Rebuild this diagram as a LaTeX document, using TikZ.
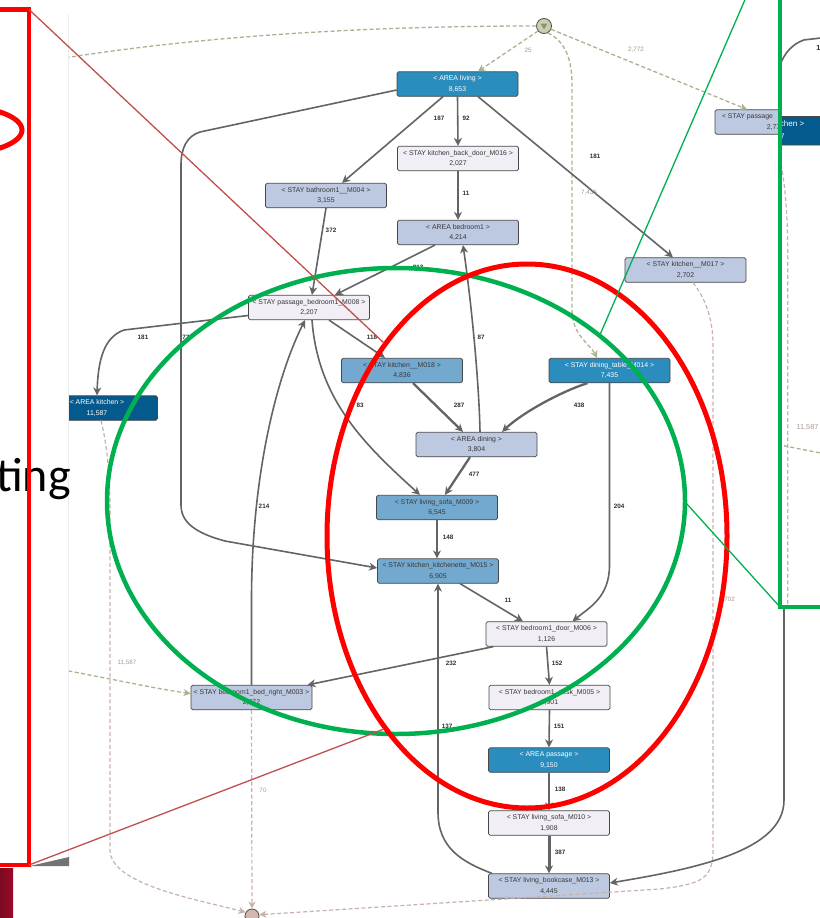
\documentclass[tikz,border=0pt]{standalone}
\usepackage{fontspec}
\setmainfont{Liberation Sans}
\newfontfamily\slidefont{Carlito}
\usetikzlibrary{arrows.meta}

\definecolor{cA}{HTML}{045A8D}
\definecolor{cB}{HTML}{2B8CBE}
\definecolor{cC}{HTML}{74A9CF}
\definecolor{cD}{HTML}{BDC9E1}
\definecolor{cE}{HTML}{F1EEF6}
\definecolor{edgegrey}{HTML}{646464}
\definecolor{startdash}{HTML}{AAB38F}
\definecolor{enddash}{HTML}{C9B1AB}
\definecolor{startlabel}{HTML}{969C80}
\definecolor{endlabel}{HTML}{B09A95}
\definecolor{startfill}{HTML}{C9D0B2}
\definecolor{startmark}{HTML}{8C9572}
\definecolor{endfill}{HTML}{D3B6AF}
\definecolor{markred}{HTML}{FF0000}
\definecolor{markgreen}{HTML}{00B050}
\definecolor{thinred}{HTML}{C0504D}
\definecolor{slidered}{HTML}{9A0B28}

\tikzset{
  state/.style={draw=black!72, line width=0.7pt, rounded corners=1.6pt,
    minimum width=121pt, minimum height=24.5pt, inner sep=0pt, align=center,
    font=\fontsize{6.9}{10.8}\selectfont, text=black!78},
  sA/.style={state, fill=cA, text=white},
  sB/.style={state, fill=cB, text=white},
  sC/.style={state, fill=cC},
  sD/.style={state, fill=cD},
  sE/.style={state, fill=cE},
  flow/.style={draw=edgegrey, line width=1.6pt, -{Stealth[length=8pt,width=8pt,inset=2.5pt]}},
  flowthick/.style={flow, line width=2.3pt},
  flowheavy/.style={flow, line width=3pt},
  startflow/.style={draw=startdash, line width=1.3pt, dash pattern=on 4pt off 2.5pt,
    -{Stealth[length=7pt,width=7pt,inset=2pt]}},
  endflow/.style={draw=enddash, line width=1.2pt, dash pattern=on 4pt off 2.5pt,
    -{Stealth[length=7pt,width=7pt,inset=2pt]}},
  lbl/.style={inner sep=0pt, font=\fontsize{6.3}{7}\selectfont\bfseries, text=black!82},
  slbl/.style={inner sep=0pt, font=\fontsize{6.3}{7}\selectfont, text=startlabel},
  elbl/.style={inner sep=0pt, font=\fontsize{6.3}{7}\selectfont, text=endlabel},
  startdot/.style={circle, draw=black!70, line width=0.8pt, fill=startfill, minimum size=15pt, inner sep=0pt},
  enddot/.style={circle, draw=black!70, line width=0.8pt, fill=endfill, minimum size=14pt, inner sep=0pt},
}

% the process map
\newcommand\flowmap{%
  \node[startdot] (S) at (544,26) {};
  \fill[startmark] (540.5,23.5) -- (547.5,23.5) -- (544,29.5) -- cycle;
  \node[enddot] (E) at (252,916) {};

  \node[sB] (living)   at (457.5,84)  {< AREA living >\\8,653};
  \node[sE] (backdoor) at (458,158.5) {< STAY kitchen\_back\_door\_M016 >\\2,027};
  \node[sD] (bath)     at (326,195.5) {< STAY bathroom1\_\_M004 >\\3,155};
  \node[sD] (bed1)     at (458,232.5) {< AREA bedroom1 >\\4,214};
  \node[sD] (k17)      at (685.5,270) {< STAY kitchen\_\_M017 >\\2,702};
  \node[sD] (passtop)  at (775.5,122) {\makebox[107pt][l]{< STAY passage}\\2,772};
  \node[sE] (pb8)      at (309,307.5) {< STAY passage\_bedroom1\_M008 >\\2,207};
  \node[sC] (k18)      at (402,370.5) {< STAY kitchen\_\_M018 >\\4,836};
  \node[sB] (dt14)     at (609.5,370.5) {< STAY dining\_table\_M014 >\\7,435};
  \node[sA] (akitchen) at (97,408)    {< AREA kitchen >\\11,587};
  \node[sD] (dining)   at (476.5,444.5) {< AREA dining >\\3,804};
  \node[sC] (sofa9)    at (437,507.5) {< STAY living\_sofa\_M009 >\\6,545};
  \node[sC] (kit15)    at (438,571)   {< STAY kitchen\_kitchenette\_M015 >\\6,905};
  \node[sE] (door6)    at (546.5,634) {< STAY bedroom1\_door\_M006 >\\1,126};
  \node[sD] (bedR3)    at (251.5,697.5) {< STAY bedroom1\_bed\_right\_M003 >\\2,672};
  \node[sE] (desk5)    at (549.5,697.5) {< STAY bedroom1\_desk\_M005 >\\1,901};
  \node[sB] (apass)    at (549,760)   {< AREA passage >\\9,150};
  \node[sE] (sofa10)   at (549,823)   {< STAY living\_sofa\_M010 >\\1,908};
  \node[sD] (book13)   at (549,886)   {< STAY living\_bookcase\_M013 >\\4,445};

  % entries from the start marker
  \coordinate (startW) at (40,62);
  \coordinate (startW2) at (30,664);
  \draw[startflow] (S.-140) -- ([xshift=20.5pt]living.north);
  \draw[startflow] (S.-25) -- ([xshift=-28.5pt]passtop.north);
  \draw[startflow] (S.-60) .. controls (566,42) and (572,60) .. (572,85) -- (572,310)
        .. controls (572,335) and (590,344) .. ([xshift=-12.5pt]dt14.north);
  \draw[startflow, -] (S.180) .. controls (350,26) and (180,38) .. (startW);
  \draw[startflow] (startW2) .. controls (100,676) and (150,688) .. ([yshift=4pt]bedR3.west);

  % exits to the end marker
  \draw[endflow] ([xshift=4pt]akitchen.south) .. controls (106,440) and (110,470) .. (110,510)
        -- (110,850) .. controls (110,885) and (200,900) .. (E.150);
  \draw[endflow] (bedR3.south) -- (E.north);
  \draw[endflow] ([xshift=7.5pt]k17.south) .. controls (705,298) and (713,318) .. (713,345)
        -- (713,850) .. controls (713,880) and (700,884) .. (660,889) -- (E.10);

  % transitions between states
  \draw[flow] ([xshift=-14.5pt]living.south) -- ([xshift=16pt]bath.north);
  \draw[flow] (living.south) -- (backdoor.north);
  \draw[flow] ([xshift=20.5pt]living.south) -- ([xshift=-12.5pt]k17.north);
  \draw[flow] (backdoor.south) -- (bed1.north);
  \draw[flow] (bath.south) -- ([xshift=3pt]pb8.north);
  \draw[flow] ([xshift=-23pt]bed1.south) -- ([xshift=26pt]pb8.north);
  \draw[flow] ([xshift=3.5pt]dining.north) .. controls (479,380) and (471,300) .. ([xshift=5pt]bed1.south);
  \draw[flow] ([xshift=20pt]pb8.south) -- ([xshift=-17pt]k18.north);
  \draw[flow] ([xshift=3pt]pb8.south) .. controls (318,400) and (365,445) .. ([xshift=-17pt]sofa9.north);
  \draw[flow] ([yshift=-8pt]pb8.west) -- (124,330) .. controls (104,337) and (98,360) .. (akitchen.north);
  \draw[flow] ([yshift=-6pt]living.west) -- (200,132) .. controls (187,136) and (181,148) .. (181,165)
        -- (181,505) .. controls (181,522) and (195,533) .. (225,541) -- ([yshift=3pt]kit15.west);
  \draw[flowthick] ([xshift=11pt]k18.south) -- ([xshift=-13.5pt]dining.north);
  \draw[flowthick] ([xshift=-22pt]dt14.south) .. controls (560,392) and (522,413) .. ([xshift=25.5pt]dining.north);
  \draw[flow] (dt14.south) -- (609.5,565) .. controls (609.5,597) and (590,607) .. ([xshift=26pt]door6.north);
  \draw[flowthick] ([xshift=-6.5pt]dining.south) -- ([xshift=8pt]sofa9.north);
  \draw[flow] (sofa9.south) -- ([xshift=-1pt]kit15.north);
  \draw[flow] ([xshift=22pt]kit15.south) -- ([xshift=-23.5pt]door6.north);
  \draw[flow] ([xshift=-53pt]door6.south) -- ([xshift=56pt]bedR3.north);
  \draw[flow] (door6.south) -- (desk5.north);
  \draw[flow] (desk5.south) -- (apass.north);
  \draw[flow] (apass.south) -- (sofa10.north);
  \draw[flowheavy] (sofa10.south) -- (book13.north);
  \draw[flow] ([xshift=-57pt]book13.north) .. controls (462,862) and (438,848) .. (438,812) -- (kit15.south);
  \draw[flow] (bedR3.north) -- (251.5,600) .. controls (251.5,480) and (275,380) .. ([xshift=-4pt]pb8.south);
  \draw[flow] ([xshift=8.5pt]passtop.south) -- (784,800) .. controls (784,850) and (700,868) .. ([yshift=3pt]book13.east);

  % frequencies
  \node[slbl] (l25)   at (528,50)  {25};
  \node[slbl] (l2772) at (636,50)  {2,772};
  \node[slbl] (l7435) at (589,193) {7,435};
  \node[elbl] (l11587) at (127,663) {11,587};
  \node[elbl] (l70)   at (263,790) {70};
  \node[elbl] (l2702) at (727,600) {2,702};
  \node[lbl] (l187)  at (439,118) {187};
  \node[lbl] (l92)   at (466,118) {92};
  \node[lbl] (l181a) at (595,156) {181};
  \node[lbl] (l11a)  at (466,193) {11};
  \node[lbl] (l372)  at (331,230) {372};
  \node[lbl] (l213)  at (418,267) {213};
  \node[lbl] (l87)   at (481,337) {87};
  \node[lbl] (l118)  at (372,337) {118};
  \node[lbl] (l83)   at (360,405) {83};
  \node[lbl] (l181b) at (143,337) {181};
  \node[lbl] (l73)   at (186,337) {73};
  \node[lbl] (l287)  at (459,405) {287};
  \node[lbl] (l438)  at (579,405) {438};
  \node[lbl] (l204)  at (619,506) {204};
  \node[lbl] (l477)  at (474,474) {477};
  \node[lbl] (l148)  at (448,537) {148};
  \node[lbl] (l11b)  at (508,600) {11};
  \node[lbl] (l232)  at (451,663) {232};
  \node[lbl] (l152)  at (557,663) {152};
  \node[lbl] (l151)  at (559,726) {151};
  \node[lbl] (l137)  at (447,726) {137};
  \node[lbl] (l138)  at (560,789) {138};
  \node[lbl] (l387)  at (560,852) {387};
  \node[lbl] (l214)  at (264,506) {214};
}

% the part of the map around the kitchen area, for the magnified frame
\newcommand\kitchendetail{%
  \node[sA] (zkitchen) at (97,408) {< AREA kitchen >\\11,587};
  \coordinate (zpassage) at (248.5,315.5);
  \coordinate (zend) at (246,912);
  \coordinate (zstart) at (30,664);
  \coordinate (zbed) at (191,693.5);
  \draw[flow] (zpassage) -- (124,330) .. controls (104,337) and (98,360) .. (zkitchen.north);
  \draw[endflow] ([xshift=4pt]zkitchen.south) .. controls (106,440) and (110,470) .. (110,510)
        -- (110,850) .. controls (110,885) and (200,900) .. (zend);
  \draw[startflow] (zstart) .. controls (100,676) and (150,688) .. (zbed);
  \node[lbl] (z181) at (140,337) {181};
  \node[elbl] (z11587) at (127,663) {11,587};
}

\begin{document}
\begin{tikzpicture}[x=1pt, y=-1pt]
  \useasboundingbox (0,0) rectangle (819,918);
  \fill[white] (0,0) rectangle (819,918);

  \flowmap

  % slide panel laid over the left edge
  \fill[white] (-1,-1) rectangle (69,919);
  \draw[black!7, line width=0.8pt] (68.5,14) -- (68.5,858);
  \fill[black!55] (30,866) -- (69,857) -- (69,866) -- cycle;
  \node[anchor=base east, inner sep=0pt, font=\slidefont\fontsize{48}{48}\selectfont] (ting) at (71,491) {ting};
  \draw[markred, line width=5pt] (-43,130) ellipse [x radius=65, y radius=24];
  \shade[left color=slidered!80!black, right color=slidered] (0,868) rectangle (13,919);
  \draw[markred, line width=4.5pt] (-5,9.5) -- (29,9.5) -- (29,865) -- (-5,865);

  % magnified frame on the right
  \begin{scope}
    \clip (781,-2) rectangle (821,606);
    \fill[white] (781,-2) rectangle (821,606);
    \begin{scope}[shift={(659.5,-344.5)}, scale=1.165, transform shape]
      \kitchendetail
    \end{scope}
  \end{scope}
  \draw[markgreen, line width=4.5pt] (780,-5) -- (780,607) -- (825,607);

  % highlight ellipses and their leader lines
  \draw[markgreen, line width=4.5pt] (396,501) ellipse [x radius=289, y radius=233];
  \draw[markred, line width=5pt] (527,536) ellipse [x radius=200, y radius=272];
  \draw[thinred, line width=1.3pt] (29,9.5) -- (384,343);
  \draw[thinred, line width=1.3pt] (29,865) -- (384,729);
  \draw[markgreen, line width=1.3pt] (747,-5) -- (599,337);
  \draw[markgreen, line width=1.3pt] (686,503) -- (780,607);
\end{tikzpicture}
\end{document}
